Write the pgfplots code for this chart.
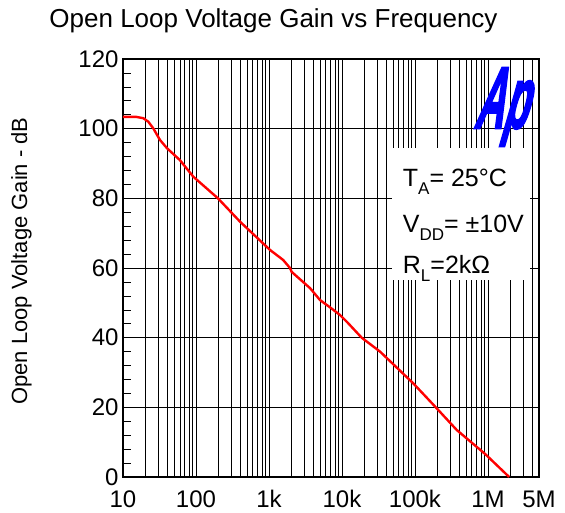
\documentclass[border=0pt]{standalone}
\usepackage{pgfplots}
\pgfplotsset{compat=1.18}
\usepackage{fontspec}
\setmainfont{Liberation Sans}
\newfontface\logofont[FakeBold=3]{Liberation Sans Bold Italic}
\begin{document}
\begin{tikzpicture}
\path[use as bounding box] (-123pt,-35pt) rectangle (442pt,477pt);
\begin{semilogxaxis}[
 scale only axis, width=416pt, height=418pt,
 xmin=10, xmax=5e6, ymin=0, ymax=120,
 xtick={10,100,1000,10000,100000,1000000,5000000},
 xticklabels={10,100,1k,10k,100k,1M,5M},
 minor xtick={20,30,40,50,60,70,80,90,200,300,400,500,600,700,800,900,2000,3000,4000,5000,6000,7000,8000,9000,20000,30000,40000,50000,60000,70000,80000,90000,200000,300000,400000,500000,600000,700000,800000,900000,2000000,3000000,4000000},
 ytick={0,20,40,60,80,100,120},
 yticklabels={0,20,40,60,80,100,120},
 minor y tick num=4,
 ytick pos=left, xtick pos=bottom,
 tick align=inside,
 minor tick length=8pt, major tick length=8pt,
 xmajorgrids, xminorgrids, ymajorgrids,
 major grid style={black, line width=0.6pt},
 minor grid style={black, line width=0.6pt},
 tick style={black, line width=0.6pt},
 axis line style={black, line width=1.1pt},
 /pgf/number format/assume math mode=true,
 ticklabel style={font=\fontsize{24}{24}\selectfont},
 xticklabel style={yshift=-10pt},
 yticklabel style={xshift=-1pt},
]
\addplot[red, line width=2.4pt, line join=round] coordinates {
(10,103.4) (15,103.4) (19,103.0) (22.2,102.0) (26,100.1) (32,96.8) (40,94.4)
(60,91.0) (92,86.2) (200,80.0) (401,73.3) (549,70.6) (1031,65.2) (1565,62.3)
(1940,60.0) (2042,58.9) (3658,54.2) (5000,50.8) (6862,48.7) (9412,46.5)
(11600,44.6) (18600,40.0) (33200,36.0) (94600,26.9) (189000,20.2) (373000,13.5)
(915000,6.6) (1950000,0)
};
\end{semilogxaxis}
\draw[black, line width=2.2pt] (416pt,0pt) -- (416pt,418pt);
\fill[white] (269pt,197pt) rectangle (407pt,329pt);
\node[anchor=base west, inner sep=0, font=\fontsize{25}{25}\selectfont] at (279.7pt,290pt) {T\raisebox{-8pt}{\fontsize{17}{17}\selectfont A}= 25°C};
\node[anchor=base west, inner sep=0, font=\fontsize{25}{25}\selectfont] at (279.7pt,244pt) {V\raisebox{-8pt}{\fontsize{17}{17}\selectfont DD}= ±10V};
\node[anchor=base west, inner sep=0, font=\fontsize{25}{25}\selectfont] at (279.7pt,204pt) {R\raisebox{-8pt}{\fontsize{17}{17}\selectfont L}=2kΩ};
\node[anchor=base west, inner sep=0, text=blue, xslant=0.2, transform shape] at (352pt,349pt) {\resizebox{53pt}{60pt}{\logofont Ap}};
\node[anchor=base, inner sep=0, font=\fontsize{26}{26}\selectfont] at (150.5pt,449pt) {Open Loop Voltage Gain vs Frequency};
\node[rotate=90, inner sep=0, font=\fontsize{22}{22}\selectfont] at (-101.5pt,216pt) {Open Loop Voltage Gain - dB};
\end{tikzpicture}
\end{document}
